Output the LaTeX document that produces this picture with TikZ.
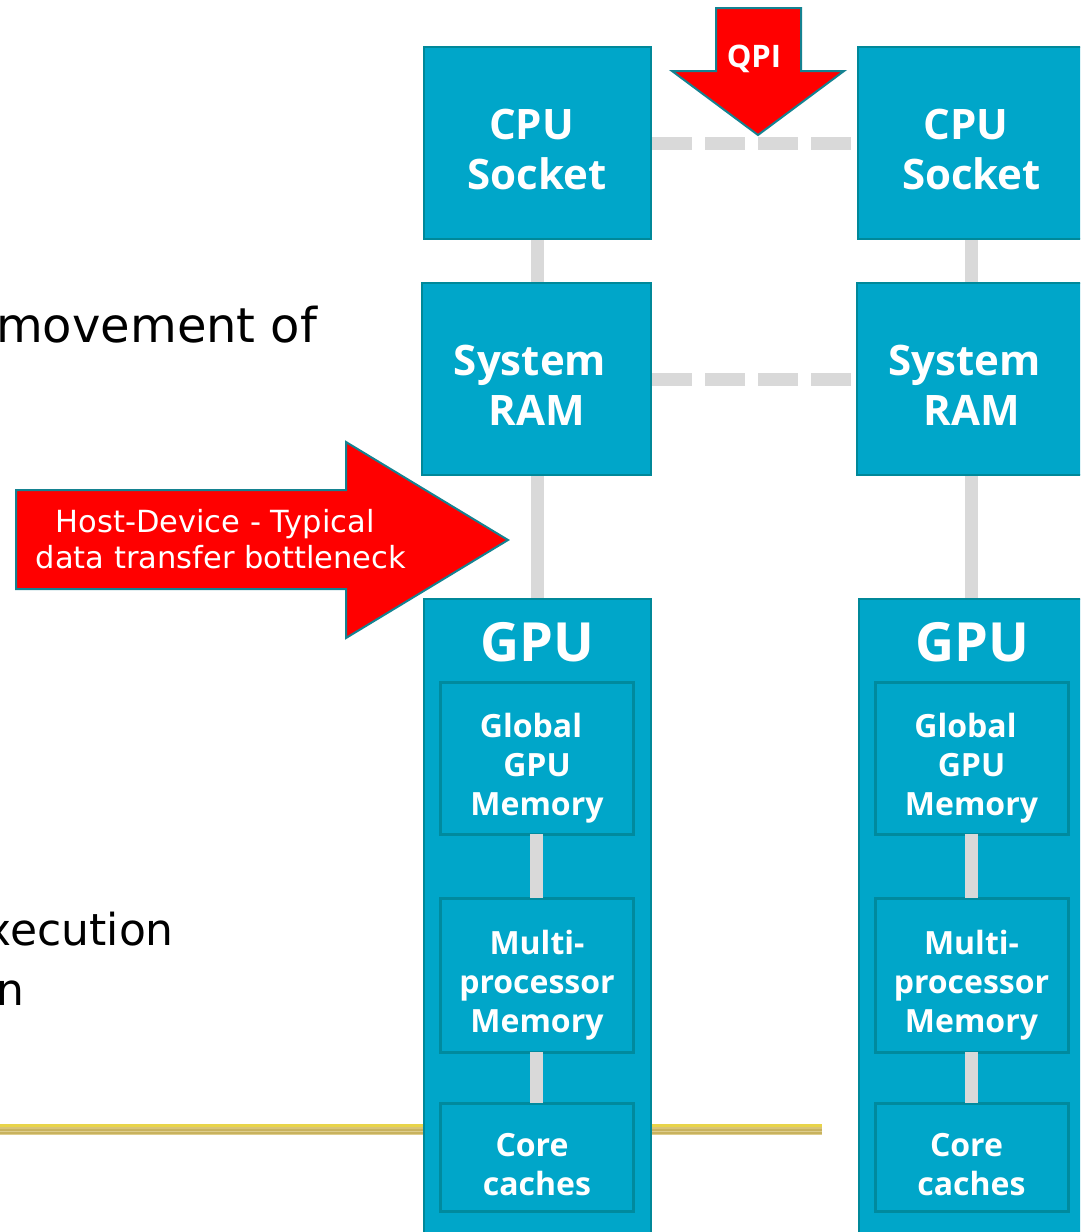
\documentclass[tikz,border=0pt]{standalone}
\usepackage{fontspec}
\setmainfont{DejaVu Sans}
\newfontfamily\labelfont{Open Sans}
\definecolor{boxfill}{RGB}{0,166,201}
\definecolor{boxedge}{RGB}{0,136,153}
\definecolor{inneredge}{RGB}{0,138,158}
\definecolor{linkgray}{RGB}{217,217,217}
\definecolor{arrowred}{RGB}{255,0,0}
\definecolor{arrowedge}{RGB}{20,130,145}
\definecolor{goldA}{RGB}{232,212,73}
\definecolor{goldB}{RGB}{216,196,118}
\definecolor{goldC}{RGB}{200,178,94}
\definecolor{goldD}{RGB}{222,205,140}
\tikzset{
  unit/.style={draw=boxedge, line width=2pt, fill=boxfill, inner sep=0pt},
  subunit/.style={draw=inneredge, line width=3pt, fill=boxfill, inner sep=0pt,
    minimum width=193pt},
  link/.style={draw=linkgray, line width=13pt},
  buslink/.style={link, dash pattern=on 40pt off 13pt},
  bigarrow/.style={fill=arrowred, draw=arrowedge, line width=2pt, line join=miter},
  unittext/.style={text=white, align=center, inner sep=0pt,
    font=\labelfont\bfseries\fontsize{42}{50}\selectfont},
  subtext/.style={text=white, align=center, inner sep=0pt,
    font=\labelfont\bfseries\fontsize{32}{39}\selectfont},
  bodytext/.style={text=black, anchor=base west, inner sep=0pt,
    font=\fontsize{48}{60}\selectfont},
}
\begin{document}
\begin{tikzpicture}[x=1pt,y=-1pt]
\clip (0,0) rectangle (1080,1232);

% slide rule behind the diagram
\fill[goldA] (0,1124) rectangle (822,1126.5);
\fill[goldB] (0,1126.5) rectangle (822,1128.5);
\fill[goldC] (0,1128.5) rectangle (822,1130.5);
\fill[goldD] (0,1130.5) rectangle (822,1132);
\fill[goldC] (0,1132) rectangle (822,1133.5);
\fill[goldD] (0,1133.5) rectangle (822,1135);

% body text of the slide
\node[bodytext] (txtA) at (-4,342) {movement of};
\node[bodytext, font=\fontsize{44}{60}\selectfont] (txtB) at (-14.5,945) {xecution};
\node[bodytext, font=\fontsize{44}{60}\selectfont] (txtC) at (-4,1005) {n};

% host-side units
\node[unit, minimum width=227pt, minimum height=192pt] (cpuL) at (537.5,143) {};
\node[unit, minimum width=227pt, minimum height=192pt] (cpuR) at (971.5,143) {};
\node[unit, minimum width=229pt, minimum height=192pt] (ramL) at (536.5,379) {};
\node[unit, minimum width=229pt, minimum height=192pt] (ramR) at (971.5,379) {};
\node[unit, minimum width=227pt, minimum height=661pt] (gpuL) at (537.5,929.5) {};
\node[unit, minimum width=227pt, minimum height=661pt] (gpuR) at (972.5,929.5) {};

% links between units
\draw[link] (cpuL.south) -- (cpuL.south |- ramL.north);
\draw[link] (cpuR.south) -- (cpuR.south |- ramR.north);
\draw[link] (cpuL.south |- ramL.south) -- (cpuL.south |- gpuL.north);
\draw[link] (cpuR.south |- ramR.south) -- (cpuR.south |- gpuR.north);
\draw[buslink] (cpuL.east) -- (cpuR.west);
\draw[buslink] (ramL.east) -- (ramR.west);

% memory levels inside each GPU
\node[subunit, minimum height=152pt] (glbL) at (536.5,758) {};
\node[subunit, minimum height=154pt] (mpmL) at (536.5,975) {};
\node[subunit, minimum height=108pt] (ccL) at (536.5,1157) {};
\node[subunit, minimum height=152pt] (glbR) at (971.5,758) {};
\node[subunit, minimum height=154pt] (mpmR) at (971.5,975) {};
\node[subunit, minimum height=108pt] (ccR) at (971.5,1157) {};
\draw[link] ([yshift=1.5pt]glbL.south) -- ([yshift=-1.5pt]glbL.south |- mpmL.north);
\draw[link] ([yshift=1.5pt]mpmL.south) -- ([yshift=-1.5pt]mpmL.south |- ccL.north);
\draw[link] ([yshift=1.5pt]glbR.south) -- ([yshift=-1.5pt]glbR.south |- mpmR.north);
\draw[link] ([yshift=1.5pt]mpmR.south) -- ([yshift=-1.5pt]mpmR.south |- ccR.north);

% unit labels
\node[unittext] (tCpuL) at (537,149) {CPU\kern11pt\\Socket};
\node[unittext] (tCpuR) at (971.5,149) {CPU\kern11pt\\Socket};
\node[unittext] (tRamL) at (537,385) {System\kern14pt\\RAM};
\node[unittext] (tRamR) at (971.5,385) {System\kern14pt\\RAM};
\node[text=white, inner sep=0pt, font=\labelfont\bfseries\fontsize{54}{60}\selectfont]
  (tGpuL) at (537,642) {GPU};
\node[text=white, inner sep=0pt, font=\labelfont\bfseries\fontsize{54}{60}\selectfont]
  (tGpuR) at (972,642) {GPU};
\node[subtext] (tGlbL) at (537,768) {Global\kern12pt\\GPU\\Memory};
\node[subtext] (tGlbR) at (971.5,768) {Global\kern12pt\\GPU\\Memory};
\node[subtext] (tMpmL) at (537,985) {Multi-\\processor\\Memory};
\node[subtext] (tMpmR) at (971.5,985) {Multi-\\processor\\Memory};
\node[subtext] (tCcL) at (537,1165) {Core\kern10pt\\caches};
\node[subtext] (tCcR) at (971.5,1165) {Core\kern10pt\\caches};

% QPI marker between the sockets
\draw[bigarrow] (716,8) -- (801,8) -- (801,71) -- (844,71) -- (758,135)
  -- (672,71) -- (716,71) -- cycle;
\node[text=white, inner sep=0pt, font=\labelfont\bfseries\fontsize{31}{36}\selectfont]
  (tQpi) at (754,59) {QPI};

% host-device bottleneck marker
\draw[bigarrow] (16,490) -- (346,490) -- (346,442) -- (508,540) -- (346,638)
  -- (346,589) -- (16,589) -- cycle;
\node[text=white, align=center, inner sep=0pt, font=\fontsize{30.5}{36}\selectfont]
  (tHost) at (221,539) {Host-Device - Typical\kern12pt\\data transfer bottleneck};
\end{tikzpicture}
\end{document}
